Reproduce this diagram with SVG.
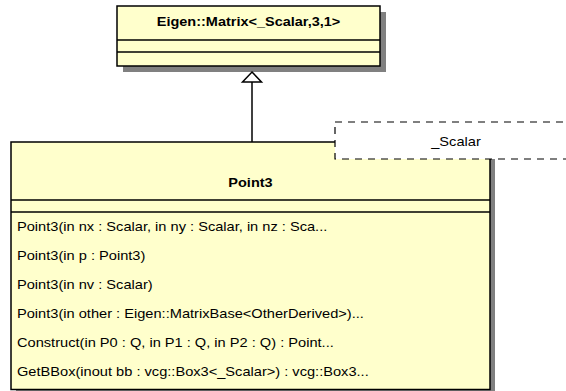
<svg xmlns="http://www.w3.org/2000/svg" width="566" height="391" viewBox="0 0 566 391">
  <style>
    .box { fill: #ffffcc; stroke: #000; stroke-width: 1.5; }
    .shadow { fill: #808080; }
    .sep { stroke: #000; stroke-width: 1.5; }
    .title { font-family: "Liberation Sans", Arial, sans-serif; font-size: 12.5px; font-weight: bold; fill: #000; }
    .op { font-family: "Liberation Sans", Arial, sans-serif; font-size: 12.5px; fill: #000; }
    .tmpl { fill: #fff; stroke: #000; stroke-width: 1.2; stroke-dasharray: 7 6; }
    .edge { stroke: #000; stroke-width: 1.5; fill: none; }
  </style>

  <!-- base class -->
  <g id="eigen-matrix">
    <rect class="shadow" x="123" y="12" width="263" height="60"/>
    <rect class="box" x="117" y="6" width="263" height="60"/>
    <line class="sep" x1="117" y1="40" x2="380" y2="40"/>
    <line class="sep" x1="117" y1="52" x2="380" y2="52"/>
    <text class="title" text-anchor="middle" transform="translate(248.5 25.5) scale(1.16 1)">Eigen::Matrix&lt;_Scalar,3,1&gt;</text>
  </g>

  <!-- generalization connector -->
  <g id="connectors">
    <line class="edge" x1="252" y1="82" x2="252" y2="142"/>
    <polygon points="252,72 261.5,82 242.5,82" fill="#fff" stroke="#000" stroke-width="1.5"/>
  </g>

  <!-- derived class -->
  <g id="point3">
    <rect class="shadow" x="16" y="147" width="479" height="250"/>
    <rect class="box" x="11" y="142" width="479" height="247.5"/>
    <line class="sep" x1="11" y1="200" x2="490" y2="200"/>
    <line class="sep" x1="11" y1="212" x2="490" y2="212"/>
    <text class="title" text-anchor="middle" transform="translate(250.5 186.5) scale(1.16 1)">Point3</text>
    <g class="op">
      <text transform="translate(17 231) scale(1.17 1)">Point3(in nx : Scalar, in ny : Scalar, in nz : Sca...</text>
      <text transform="translate(17 260) scale(1.17 1)">Point3(in p : Point3)</text>
      <text transform="translate(17 289) scale(1.17 1)">Point3(in nv : Scalar)</text>
      <text transform="translate(17 318) scale(1.17 1)">Point3(in other : Eigen::MatrixBase&lt;OtherDerived&gt;)...</text>
      <text transform="translate(17 347) scale(1.17 1)">Construct(in P0 : Q, in P1 : Q, in P2 : Q) : Point...</text>
      <text transform="translate(17 376) scale(1.17 1)">GetBBox(inout bb : vcg::Box3&lt;_Scalar&gt;) : vcg::Box3...</text>
    </g>
  </g>

  <!-- template parameter -->
  <g id="template-param">
    <rect class="tmpl" x="335" y="122" width="242" height="37"/>
    <text class="op" text-anchor="middle" transform="translate(456 146) scale(1.17 1)">_Scalar</text>
  </g>
</svg>
